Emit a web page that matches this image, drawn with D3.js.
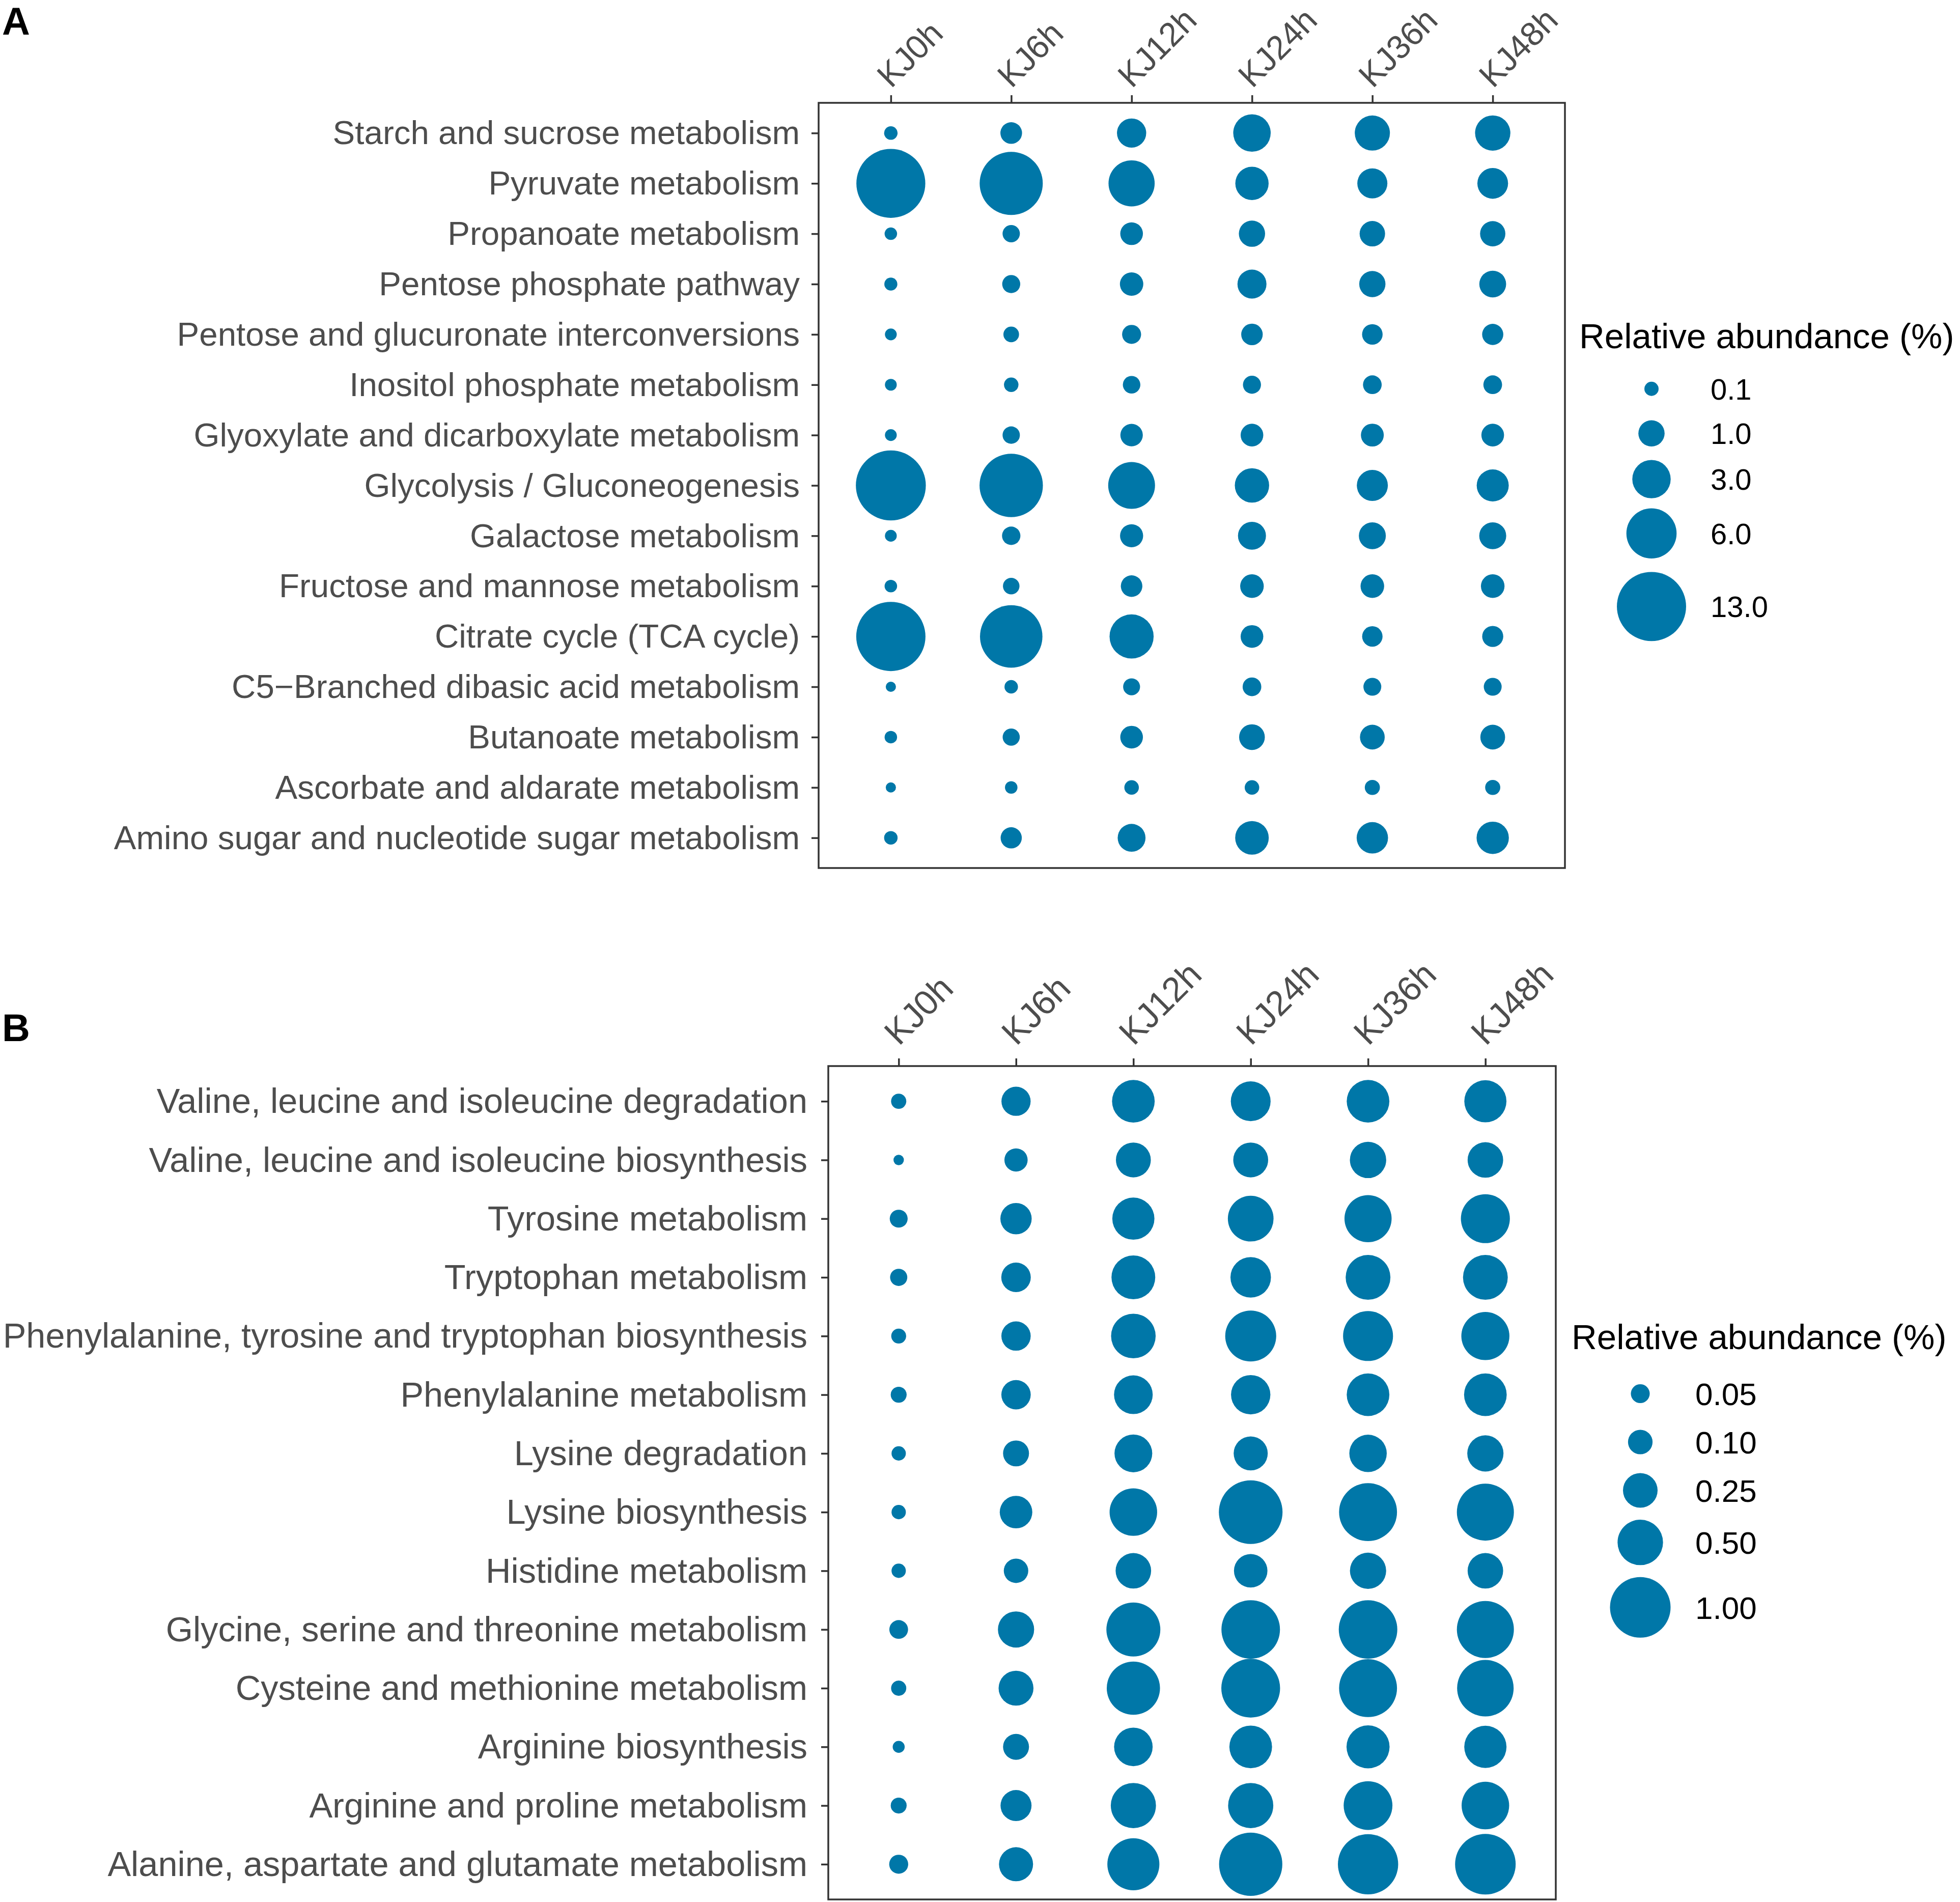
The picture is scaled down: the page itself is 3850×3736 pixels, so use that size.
<!DOCTYPE html>
<html><head><meta charset="utf-8">
<script src="https://cdn.jsdelivr.net/npm/d3@7"></script>
<style>html,body{margin:0;padding:0;background:#fff;} svg{display:block;}</style>
</head><body>
<svg id="chart" width="3850" height="3736"></svg>
<script>
// ---------------- DATA ----------------
const timepoints = ["KJ0h", "KJ6h", "KJ12h", "KJ24h", "KJ36h", "KJ48h"];

// Panel A: carbohydrate metabolism pathways (top to bottom)
const carbPathways = [
  "Starch and sucrose metabolism",
  "Pyruvate metabolism",
  "Propanoate metabolism",
  "Pentose phosphate pathway",
  "Pentose and glucuronate interconversions",
  "Inositol phosphate metabolism",
  "Glyoxylate and dicarboxylate metabolism",
  "Glycolysis / Gluconeogenesis",
  "Galactose metabolism",
  "Fructose and mannose metabolism",
  "Citrate cycle (TCA cycle)",
  "C5\u2212Branched dibasic acid metabolism",
  "Butanoate metabolism",
  "Ascorbate and aldarate metabolism",
  "Amino sugar and nucleotide sugar metabolism"
];
const carbKJ0h  = [0.08, 12.89, 0.06, 0.07, 0.05, 0.05, 0.05, 13.34, 0.05, 0.06, 13.02, 0.04, 0.06, 0.04, 0.08];
const carbKJ6h  = [0.53, 10.47, 0.23, 0.27, 0.15, 0.11, 0.23, 10.56, 0.29, 0.19, 10.20, 0.08, 0.22, 0.06, 0.49];
const carbKJ12h = [1.39, 4.85, 0.62, 0.69, 0.33, 0.24, 0.60, 5.04, 0.66, 0.52, 4.32, 0.21, 0.62, 0.11, 1.20];
const carbKJ24h = [2.81, 2.03, 1.00, 1.36, 0.52, 0.27, 0.62, 2.21, 1.22, 0.71, 0.62, 0.31, 0.94, 0.11, 2.08];
const carbKJ36h = [2.36, 1.51, 0.91, 1.00, 0.44, 0.31, 0.64, 1.66, 1.09, 0.71, 0.43, 0.26, 0.83, 0.13, 1.71];
const carbKJ48h = [2.39, 1.61, 0.89, 1.07, 0.49, 0.31, 0.62, 1.82, 1.09, 0.71, 0.48, 0.26, 0.83, 0.13, 1.86];
const carbLegendValues = [0.1, 1, 3, 6, 13];
const carbLegendLabels = ["0.1", "1.0", "3.0", "6.0", "13.0"];

// Panel B: amino acid metabolism pathways (top to bottom)
const aminoPathways = [
  "Valine, leucine and isoleucine degradation",
  "Valine, leucine and isoleucine biosynthesis",
  "Tyrosine metabolism",
  "Tryptophan metabolism",
  "Phenylalanine, tyrosine and tryptophan biosynthesis",
  "Phenylalanine metabolism",
  "Lysine degradation",
  "Lysine biosynthesis",
  "Histidine metabolism",
  "Glycine, serine and threonine metabolism",
  "Cysteine and methionine metabolism",
  "Arginine biosynthesis",
  "Arginine and proline metabolism",
  "Alanine, aspartate and glutamate metabolism"
];
const aminoKJ0h  = [0.031, 0.022, 0.044, 0.040, 0.030, 0.034, 0.028, 0.028, 0.028, 0.049, 0.031, 0.023, 0.034, 0.051];
const aminoKJ6h  = [0.159, 0.086, 0.192, 0.164, 0.161, 0.162, 0.116, 0.213, 0.099, 0.281, 0.255, 0.116, 0.187, 0.240];
const aminoKJ12h = [0.426, 0.255, 0.413, 0.455, 0.476, 0.333, 0.313, 0.558, 0.267, 0.759, 0.735, 0.330, 0.492, 0.695];
const aminoKJ24h = [0.358, 0.255, 0.506, 0.374, 0.662, 0.348, 0.240, 1.123, 0.229, 0.922, 0.930, 0.426, 0.492, 1.106];
const aminoKJ36h = [0.426, 0.283, 0.546, 0.481, 0.630, 0.426, 0.306, 0.899, 0.281, 0.922, 0.899, 0.436, 0.594, 0.988];
const aminoKJ48h = [0.413, 0.267, 0.600, 0.481, 0.573, 0.426, 0.281, 0.866, 0.267, 0.866, 0.848, 0.416, 0.558, 1.000];
const aminoLegendValues = [0.05, 0.10, 0.25, 0.50, 1.00];
const aminoLegendLabels = ["0.05", "0.10", "0.25", "0.50", "1.00"];

const legendTitle = "Relative abundance (%)";

// ---------------- STYLE / LAYOUT ----------------
const FONT = "'Liberation Sans', Arial, Helvetica, sans-serif";
const DOT = "#0077A8";
const LINE = "#333333";
const AXIS_TEXT = "#4D4D4D";

const svg = d3.select("#chart");
svg.append("rect").attr("width", 3850).attr("height", 3736).attr("fill", "#fff");

function drawPanel(cfg, pathways, series, legendValues, legendLabels) {
  const g = svg.append("g");
  const box = cfg.box;
  const x = d3.scalePoint().domain(timepoints).range([box.x0, box.x1]).padding(0.6);
  const y = d3.scalePoint().domain(pathways).range([box.y0, box.y1]).padding(0.6);

  const points = timepoints.flatMap((tp, i) => pathways.map((pw, j) => ({tp, pw, v: series[i][j]})));
  const ext = d3.extent(points, d => d.v);
  const sq = d3.scaleSqrt().domain([0, ext[1] - ext[0]]).range([0, cfg.r1 - cfg.r0]);
  const size = v => cfg.r0 + sq(Math.max(0, v - ext[0]));

  // panel letter
  g.append("text").attr("x", cfg.letterX).attr("y", cfg.letterY)
    .attr("font-family", FONT).attr("font-weight", "bold").attr("font-size", 76)
    .attr("fill", "#000").text(cfg.letter);

  // points
  g.append("g").selectAll("circle").data(points).join("circle")
    .attr("cx", d => x(d.tp)).attr("cy", d => y(d.pw)).attr("r", d => size(d.v))
    .attr("fill", DOT);

  // border
  g.append("rect").attr("x", box.x0).attr("y", box.y0)
    .attr("width", box.x1 - box.x0).attr("height", box.y1 - box.y0)
    .attr("fill", "none").attr("stroke", LINE).attr("stroke-width", 3.5);

  // top axis
  const gx = g.append("g").attr("transform", `translate(0,${box.y0})`)
    .call(d3.axisTop(x).tickSize(15).tickSizeOuter(0));
  gx.select(".domain").remove();
  gx.selectAll("line").attr("stroke", LINE).attr("stroke-width", 3.5);
  gx.selectAll("text")
    .attr("x", 0).attr("y", 0).attr("dy", 0)
    .attr("text-anchor", "start")
    .attr("transform", `translate(0,${-(15 + cfg.xGap)}) rotate(-45)`)
    .attr("font-family", FONT).attr("font-size", cfg.axisFont).attr("fill", AXIS_TEXT);

  // left axis
  const gy = g.append("g").attr("transform", `translate(${box.x0},0)`)
    .call(d3.axisLeft(y).tickSize(14).tickPadding(cfg.yPad).tickSizeOuter(0));
  gy.select(".domain").remove();
  gy.selectAll("line").attr("stroke", LINE).attr("stroke-width", 3.5);
  gy.selectAll("text")
    .attr("dy", "0.33em")
    .attr("font-family", FONT).attr("font-size", cfg.axisFont).attr("fill", AXIS_TEXT);

  // legend
  const L = cfg.legend;
  const lg = g.append("g");
  lg.append("text").attr("x", L.titleX).attr("y", L.titleY)
    .attr("font-family", FONT).attr("font-size", 69).attr("fill", "#000").text(legendTitle);
  const keys = legendValues.map((v, i) => {
    const r = size(v);
    return {v, label: legendLabels[i], r, h: Math.max(L.minH, 2.45 * r)};
  });
  let yy = L.titleY + L.gap;
  keys.forEach(k => { k.cy = yy + k.h / 2; yy += k.h; });
  lg.selectAll("circle").data(keys).join("circle")
    .attr("cx", L.keyX).attr("cy", d => d.cy).attr("r", d => d.r).attr("fill", DOT);
  lg.selectAll("text.lab").data(keys).join("text").attr("class", "lab")
    .attr("x", L.labelX).attr("y", d => d.cy).attr("dy", "0.36em")
    .attr("font-family", FONT).attr("font-size", L.labelFont).attr("fill", "#000")
    .text(d => d.label);
}

drawPanel({
  letter: "A", letterX: 4, letterY: 68,
  box: {x0: 1608, x1: 3074, y0: 202, y1: 1705},
  axisFont: 65.5, xGap: 12, yPad: 23, r0: 10, r1: 68.7,
  legend: {titleX: 3102, titleY: 684, keyX: 3244, labelX: 3360, gap: 36, minH: 87.5, labelFont: 58}
}, carbPathways, [carbKJ0h, carbKJ6h, carbKJ12h, carbKJ24h, carbKJ36h, carbKJ48h], carbLegendValues, carbLegendLabels);

drawPanel({
  letter: "B", letterX: 4, letterY: 2045,
  box: {x0: 1627, x1: 3056, y0: 2094, y1: 3731},
  axisFont: 68.5, xGap: 23, yPad: 27, r0: 10.2, r1: 62.5,
  legend: {titleX: 3087, titleY: 2650, keyX: 3222, labelX: 3330, gap: 40, minH: 95, labelFont: 62}
}, aminoPathways, [aminoKJ0h, aminoKJ6h, aminoKJ12h, aminoKJ24h, aminoKJ36h, aminoKJ48h], aminoLegendValues, aminoLegendLabels);
</script>
</body></html>
